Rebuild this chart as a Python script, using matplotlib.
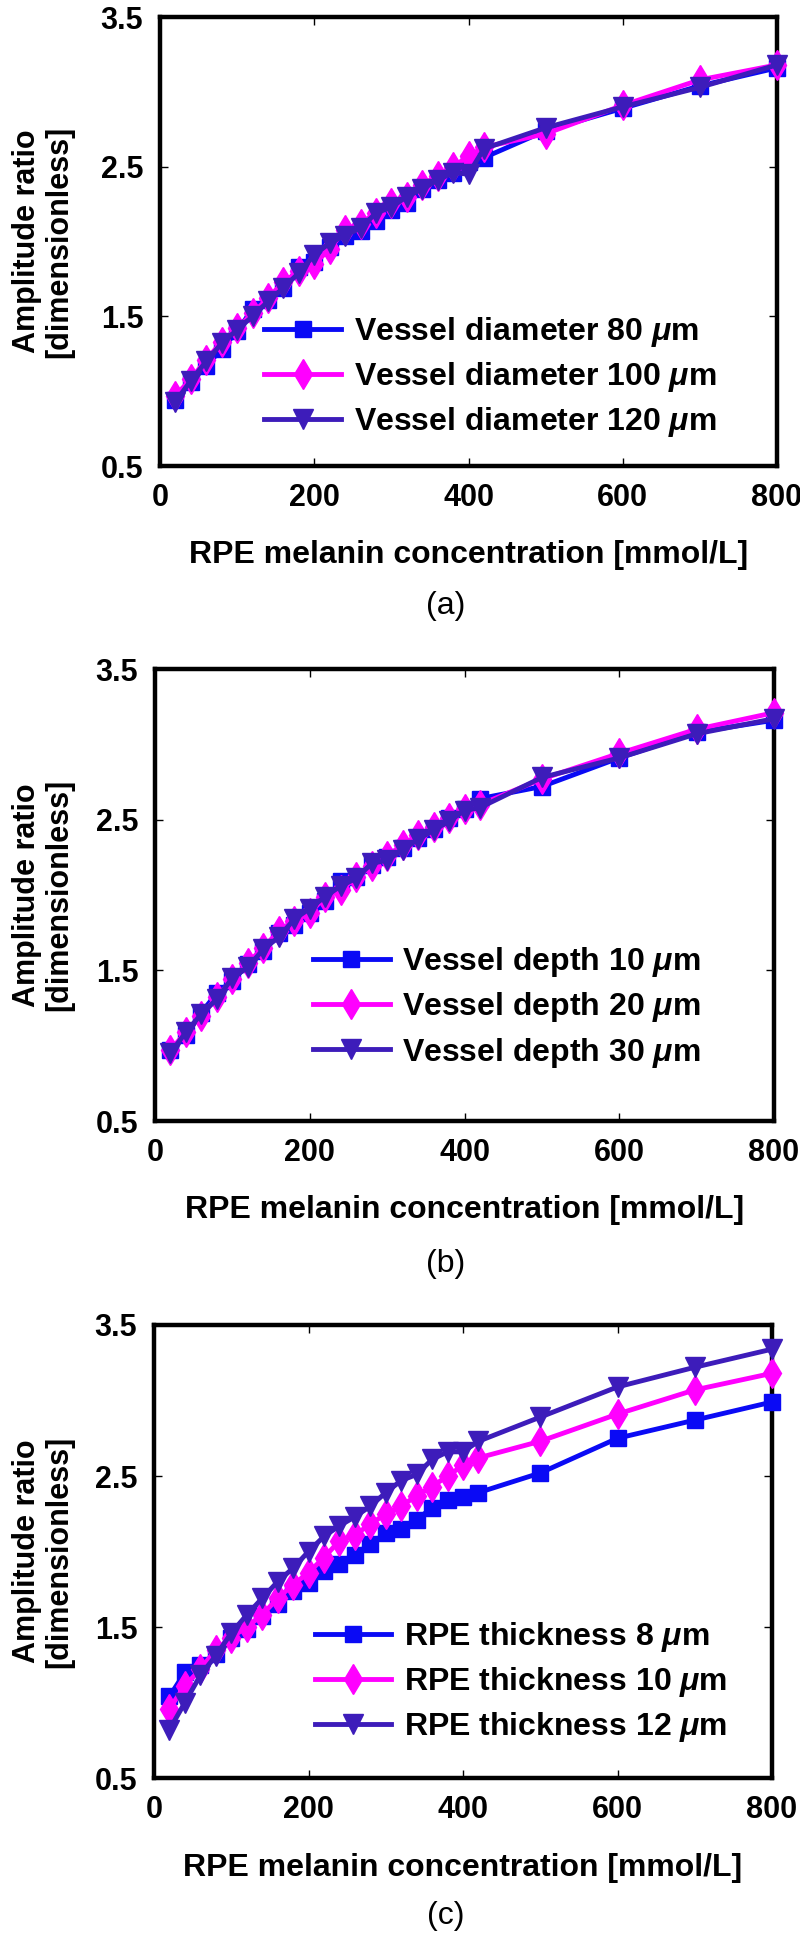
import matplotlib
matplotlib.use("Agg")
import matplotlib.pyplot as plt
from matplotlib.font_manager import FontProperties

plt.rcParams["font.family"] = ["Liberation Sans", "DejaVu Sans"]
plt.rcParams["mathtext.fontset"] = "custom"
plt.rcParams["mathtext.rm"] = "Liberation Sans:bold"
plt.rcParams["mathtext.it"] = "Liberation Sans:italic:bold"
plt.rcParams["mathtext.bf"] = "Liberation Sans:bold"

# ---------------- data ----------------
conc = [20, 40, 60, 80, 100, 120, 140, 160, 180, 200, 220, 240, 260, 280, 300,
        320, 340, 360, 380, 400, 420, 500, 600, 700, 800]

# (a) vessel diameter
diam_80 = [0.94, 1.06, 1.17, 1.28, 1.40, 1.55, 1.61, 1.69, 1.83, 1.86, 1.96, 2.04, 2.07,
           2.14, 2.21, 2.26, 2.35, 2.41, 2.46, 2.53, 2.56, 2.74, 2.89, 3.04, 3.16]
diam_100 = [0.97, 1.08, 1.21, 1.33, 1.42, 1.52, 1.62, 1.73, 1.80, 1.85, 1.95, 2.08, 2.12,
            2.19, 2.26, 2.30, 2.38, 2.44, 2.50, 2.57, 2.63, 2.72, 2.91, 3.08, 3.18]
diam_120 = [0.93, 1.07, 1.20, 1.32, 1.41, 1.50, 1.60, 1.69, 1.79, 1.91, 1.99, 2.04, 2.09,
            2.19, 2.23, 2.30, 2.35, 2.41, 2.46, 2.45, 2.62, 2.76, 2.90, 3.03, 3.18]

# (b) vessel depth
depth_10 = [0.97, 1.07, 1.22, 1.35, 1.43, 1.54, 1.63, 1.75, 1.80, 1.88, 1.96, 2.09, 2.12,
            2.20, 2.25, 2.31, 2.38, 2.44, 2.51, 2.57, 2.64, 2.72, 2.91, 3.08, 3.16]
depth_20 = [0.97, 1.09, 1.20, 1.32, 1.44, 1.55, 1.65, 1.76, 1.83, 1.88, 1.99, 2.03, 2.12,
            2.19, 2.26, 2.33, 2.40, 2.45, 2.51, 2.57, 2.60, 2.77, 2.94, 3.10, 3.21]
depth_30 = [0.95, 1.09, 1.21, 1.31, 1.45, 1.52, 1.64, 1.72, 1.84, 1.91, 1.99, 2.06, 2.11,
            2.21, 2.23, 2.30, 2.37, 2.43, 2.49, 2.56, 2.58, 2.78, 2.91, 3.07, 3.17]

# (c) RPE thickness
thick_8 = [1.04, 1.20, 1.25, 1.32, 1.43, 1.49, 1.57, 1.65, 1.74, 1.79, 1.87, 1.92, 1.98,
           2.05, 2.12, 2.15, 2.21, 2.29, 2.34, 2.36, 2.39, 2.52, 2.75, 2.87, 2.99]
thick_10 = [0.96, 1.11, 1.22, 1.35, 1.43, 1.50, 1.58, 1.69, 1.78, 1.86, 1.96, 2.07, 2.11,
            2.18, 2.25, 2.30, 2.37, 2.43, 2.50, 2.57, 2.62, 2.73, 2.91, 3.07, 3.18]
thick_12 = [0.82, 1.00, 1.18, 1.31, 1.46, 1.58, 1.69, 1.80, 1.89, 2.00, 2.10, 2.17, 2.23,
            2.30, 2.39, 2.47, 2.51, 2.61, 2.66, 2.66, 2.73, 2.89, 3.09, 3.22, 3.34]

labels_a = ["Vessel diameter 80 $\\mu$m", "Vessel diameter 100 $\\mu$m", "Vessel diameter 120 $\\mu$m"]
labels_b = ["Vessel depth 10 $\\mu$m", "Vessel depth 20 $\\mu$m", "Vessel depth 30 $\\mu$m"]
labels_c = ["RPE thickness 8 $\\mu$m", "RPE thickness 10 $\\mu$m", "RPE thickness 12 $\\mu$m"]

xticks = [0, 200, 400, 600, 800]
yticks = [0.5, 1.5, 2.5, 3.5]
xlabel = "RPE melanin concentration [mmol/L]"
ylabel = "Amplitude ratio\n[dimensionless]"

colors = ["#0A0AF5", "#FF00FF", "#3D1CBA"]
markers = ["s", "d", "v"]
msizes = [12, 15, 14]

W, H = 800, 1935
fig = plt.figure(figsize=(W / 100, H / 100), dpi=100)

panels = [
    # left, right, top, bottom (px), series, labels, legend anchor, caption y
    (160, 777, 17, 466, [diam_80, diam_100, diam_120], labels_a, (0.169, 0.336), 606, "(a)"),
    (155, 774, 669, 1121, [depth_10, depth_20, depth_30], labels_b, (0.255, 0.389), 1264, "(b)"),
    (154, 772, 1325, 1778, [thick_8, thick_10, thick_12], labels_c, (0.26, 0.349), 1916, "(c)"),
]

legend_font = FontProperties(family="Liberation Sans", weight="bold", size=23)

for (l, r, t, b, series, labels, anchor, capy, cap) in panels:
    ax = fig.add_axes([l / W, 1 - b / H, (r - l) / W, (b - t) / H])
    for ys, c, m, ms, lab in zip(series, colors, markers, msizes, labels):
        ax.plot(conc, ys, color=c, marker=m, markersize=ms, linewidth=3.5,
                label=lab, clip_on=False, zorder=3)
    ax.set_xlim(0, 800)
    ax.set_ylim(0.5, 3.5)
    ax.set_xticks(xticks)
    ax.set_yticks(yticks)
    ax.set_yticklabels([f"{v:.1f}" for v in yticks])
    ax.tick_params(direction="in", top=True, right=True, length=6, width=1,
                   pad=12, labelsize=22)
    for lbl in ax.get_xticklabels() + ax.get_yticklabels():
        lbl.set_fontweight("bold")
    for sp in ax.spines.values():
        sp.set_linewidth(3.2)
    ax.set_xlabel(xlabel, fontsize=23, fontweight="bold")
    ax.xaxis.set_label_coords(0.5, -(540 - 466) / 449)
    # y label placed explicitly, centred on the axes
    fig.text(43 / W, 1 - (t + b) / 2 / H, ylabel, rotation=90, ha="center",
             va="center", multialignment="center", fontsize=22,
             fontweight="bold", linespacing=1.1)
    ax.legend(loc="upper left", bbox_to_anchor=anchor, frameon=False,
              borderpad=0, borderaxespad=0, handlelength=2.4,
              handletextpad=0.4, labelspacing=0.35, prop=legend_font)
    fig.text(446 / W, 1 - capy / H, cap, ha="center", va="center",
             fontsize=23, family="Liberation Sans")

fig.savefig("out.png", dpi=100)
